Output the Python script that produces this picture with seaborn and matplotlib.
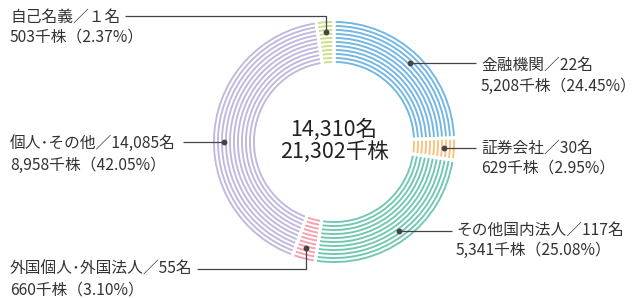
import matplotlib.pyplot as plt
import seaborn as sns
import numpy as np

# data (clockwise from 12 o'clock)
categories = ["金融機関", "証券会社", "その他国内法人", "外国個人･外国法人", "個人･その他", "自己名義"]
holders = ["22", "30", "117", "55", "14,085", "１"]
shares = [5208, 629, 5341, 660, 8958, 503]  # 千株
percents = [24.45, 2.95, 25.08, 3.10, 42.05, 2.37]
total_holders = "14,310"
total_shares = "21,302"

colors = ["#72b6e4", "#fbc17c", "#72c7b4", "#f4a1aa", "#c2b7dd", "#cbde8a"]

sns.set_theme(style="white")
plt.rcParams['font.family'] = ['Noto Sans CJK JP', 'DejaVu Sans']

W, H = 640, 298
fig = plt.figure(figsize=(6.4, 2.98), dpi=100)
ax = fig.add_axes([0, 0, 1, 1])

cx, cy = 334, H - 142
r_out, r_in, n_rings = 121, 81, 11
ring_w = 1.9

# striped donut: thin concentric rings
for r in np.linspace(r_out, r_in, n_rings):
    wedges, _ = ax.pie(shares, radius=r, center=(cx, cy), startangle=90,
                       counterclock=False, colors=colors,
                       wedgeprops=dict(width=ring_w, linewidth=0))

# white gaps between segments
ax.pie(shares, radius=r_out + 5, center=(cx, cy), startangle=90,
       counterclock=False, colors=['none'] * len(shares),
       wedgeprops=dict(width=r_out - r_in + 12, edgecolor='white', linewidth=2.2))

ax.set_xlim(0, W)
ax.set_ylim(0, H)
ax.set_aspect('equal')
ax.axis('off')

# leader dots at mid angle of each segment
r_dot = 110
dots = []
for i, w in enumerate(wedges):
    ang = np.deg2rad((w.theta1 + w.theta2) / 2)
    if i == 4:
        ang = np.pi
    dots.append((cx + r_dot * np.cos(ang), cy + r_dot * np.sin(ang)))

line_c = "#444444"
txt_c = "#333333"
fs = 11.3

# layout: (leader path end points in pixel coords, text x, text line y's)
layout = [
    dict(path=[(476, None)], tx=481, ty=(65, 86)),
    dict(path=[(476, None)], tx=481, ty=(148, 168)),
    dict(path=[(452, None)], tx=456, ty=(230, 250)),
    dict(path=[(None, 269), (197, 269)], tx=10, ty=(269, 290)),
    dict(path=[(183, None)], tx=10, ty=(143, 165)),
    dict(path=[(None, 16), (125, 16)], tx=10, ty=(17, 37)),
]

for i, lay in enumerate(layout):
    dx, dy = dots[i]
    xs, ys = [dx], [dy]
    for px, py in lay['path']:
        xs.append(xs[-1] if px is None else px)
        ys.append(ys[-1] if py is None else H - py)
    ax.plot(xs, ys, color=line_c, lw=0.9, solid_capstyle='butt')
    ax.plot([dx], [dy], 'o', color=line_c, ms=3.2)
    ax.text(lay['tx'], H - lay['ty'][0], f"{categories[i]}／{holders[i]}名",
            fontsize=fs, color=txt_c, ha='left', va='center')
    ax.text(lay['tx'], H - lay['ty'][1], f"{shares[i]:,}千株（{percents[i]:.2f}%）",
            fontsize=fs, color=txt_c, ha='left', va='center')

ax.text(cx, H - 130, f"{total_holders}名", fontsize=15.5, color="#222222",
        ha='center', va='center')
ax.text(cx, H - 152, f"{total_shares}千株", fontsize=15.5, color="#222222",
        ha='center', va='center')

fig.savefig("out.png", dpi=100)
